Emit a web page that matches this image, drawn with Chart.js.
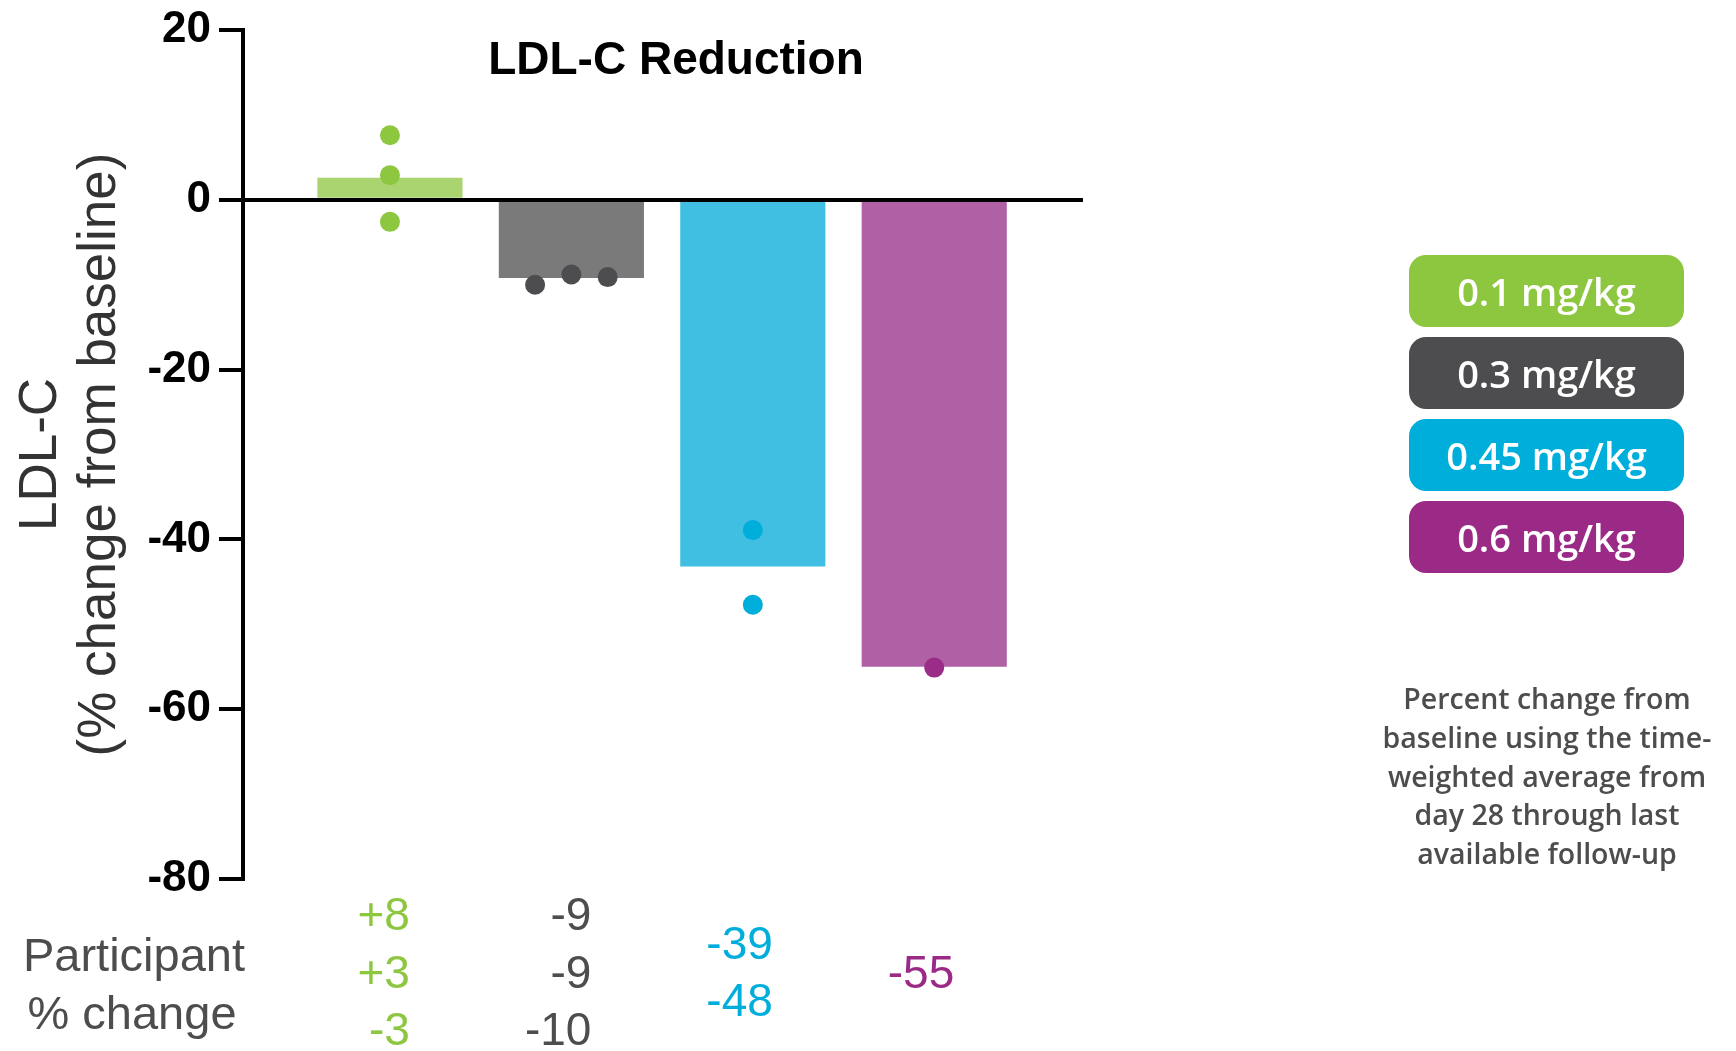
<!DOCTYPE html>
<html>
<head>
<meta charset="utf-8">
<title>LDL-C Reduction</title>
<script src="https://cdn.jsdelivr.net/npm/chart.js@4.4.1/dist/chart.umd.min.js"></script>
<style>
  html, body { margin: 0; padding: 0; background: #fff; overflow: hidden; }
  #wrap { position: relative; width: 1736px; height: 1051px; }
  #chart { position: absolute; left: 0; top: 0; }
  .legend { position: absolute; left: 1409px; top: 255px; width: 275px; }
  .legend div {
    height: 72px; margin-bottom: 10px; border-radius: 17px; color: #fff;
    font: 600 38px 'Open Sans', sans-serif;
    display: flex; align-items: center; justify-content: center;
  }
  .note {
    position: absolute; left: 1367px; top: 679px; width: 360px; text-align: center;
    font: 600 28.5px/38.75px 'Open Sans', sans-serif; color: #4d4d4f;
  }
</style>
</head>
<body>
<div id="wrap">
  <canvas id="chart" width="1736" height="1051"></canvas>
  <div class="legend" id="legend"></div>
  <div class="note">Percent change from<br>baseline using the time-<br>weighted average from<br>day 28 through last<br>available follow-up</div>
</div>
<script>
// Values.
const doses = ['0.1 mg/kg', '0.3 mg/kg', '0.45 mg/kg', '0.6 mg/kg'];
const meanChange = [2.6, -9.2, -43.2, -55];
const participantChange = [[7.6, 2.9, -2.6], [-10, -8.8, -9.1], [-38.9, -47.7], [-55.1]];
const participantLabels = [['+8', '+3', '-3'], ['-9', '-9', '-10'], ['-39', '-48'], ['-55']];
const yTicks = [20, 0, -20, -40, -60, -80];

const barColors = ['#a9d46f', '#7a7a7a', '#41bfe2', '#b061a6'];
const dotColors = ['#8dc63f', '#4d4d4f', '#00aedb', '#9b2c87'];
const labelColors = ['#8dc63f', '#4d4d4f', '#00aedb', '#9b2a87'];

const sans = '"Liberation Sans", Arial, sans-serif';

// Build the participant dots, spreading a group sideways when its points would overlap.
function buildDots() {
  const points = [];
  const colors = [];
  participantChange.forEach((vals, i) => {
    const crowded = vals.some((a, j) => vals.some((b, k) => j !== k && Math.abs(a - b) < 3));
    vals.forEach((v, j) => {
      const dx = crowded ? (j - (vals.length - 1) / 2) * 0.2 : 0;
      points.push({x: i + 1 + dx, y: v});
      colors.push(dotColors[i]);
    });
  });
  return {points, colors};
}

// Title, row caption and the per participant numbers under the bars.
const annotations = {
  id: 'annotations',
  afterDraw(chart) {
    const {ctx, chartArea, scales} = chart;
    ctx.save();
    ctx.textBaseline = 'middle';
    ctx.textAlign = 'center';

    ctx.font = 'bold 46px ' + sans;
    ctx.fillStyle = '#000';
    ctx.fillText('LDL-C Reduction', (chartArea.left + chartArea.right) / 2 + 13, 61);

    ctx.font = '47px ' + sans;
    ctx.fillStyle = '#4d4d4f';
    ctx.fillText('Participant', 134, 958);
    ctx.fillText('% change', 132, 1016);

    const mid = chartArea.bottom + 96;
    ctx.font = '46px ' + sans;
    ctx.textAlign = 'right';
    participantLabels.forEach((rows, i) => {
      const x = scales.x.getPixelForValue(i + 1) + 20;
      ctx.fillStyle = labelColors[i];
      rows.forEach((t, j) => ctx.fillText(t, x, mid + (j - (rows.length - 1) / 2) * 57.5));
    });
    ctx.restore();
  }
};

// Legend pills.
const $legend = document.getElementById('legend');
doses.forEach((d, i) => {
  const el = document.createElement('div');
  el.textContent = d;
  el.style.background = labelColors[i];
  $legend.appendChild(el);
});

const dots = buildDots();

new Chart(document.getElementById('chart'), {
  type: 'bar',
  data: {
    datasets: [
      {
        type: 'scatter',
        data: dots.points,
        pointRadius: 10,
        pointHoverRadius: 10,
        pointBackgroundColor: dots.colors,
        pointBorderWidth: 0,
        order: 0
      },
      {
        type: 'bar',
        data: meanChange.map((v, i) => ({x: i + 1, y: v})),
        backgroundColor: barColors,
        categoryPercentage: 1,
        barPercentage: 0.8,
        order: 1
      }
    ]
  },
  options: {
    responsive: false,
    animation: false,
    layout: {padding: {left: 0, top: 25, right: 653, bottom: 172}},
    plugins: {legend: {display: false}, tooltip: {enabled: false}},
    scales: {
      x: {
        type: 'linear',
        min: 0.19,
        max: 4.82,
        offset: false,
        display: false,
        afterBuildTicks: s => { s.ticks = meanChange.map((_, i) => ({value: i + 1})); }
      },
      y: {
        min: -80,
        max: 20,
        afterBuildTicks: s => { s.ticks = yTicks.map(v => ({value: v})); },
        afterFit: s => { s.width = 243; },
        border: {color: '#000', width: 4, z: 1},
        grid: {
          color: c => (c.tick && c.tick.value === 0 ? '#000' : 'rgba(0,0,0,0)'),
          lineWidth: 4,
          tickLength: 24,
          tickColor: '#000',
          tickWidth: 4,
          z: 1
        },
        ticks: {color: '#000', padding: 8, font: {family: sans, size: 44, weight: 'bold', lineHeight: 1}},
        title: {
          display: true,
          text: ['LDL-C', '(% change from baseline)'],
          color: '#333',
          font: {family: sans, size: 53, lineHeight: 1.11},
          padding: {top: 12, bottom: 0}
        }
      }
    }
  },
  plugins: [annotations]
});
</script>
</body>
</html>
